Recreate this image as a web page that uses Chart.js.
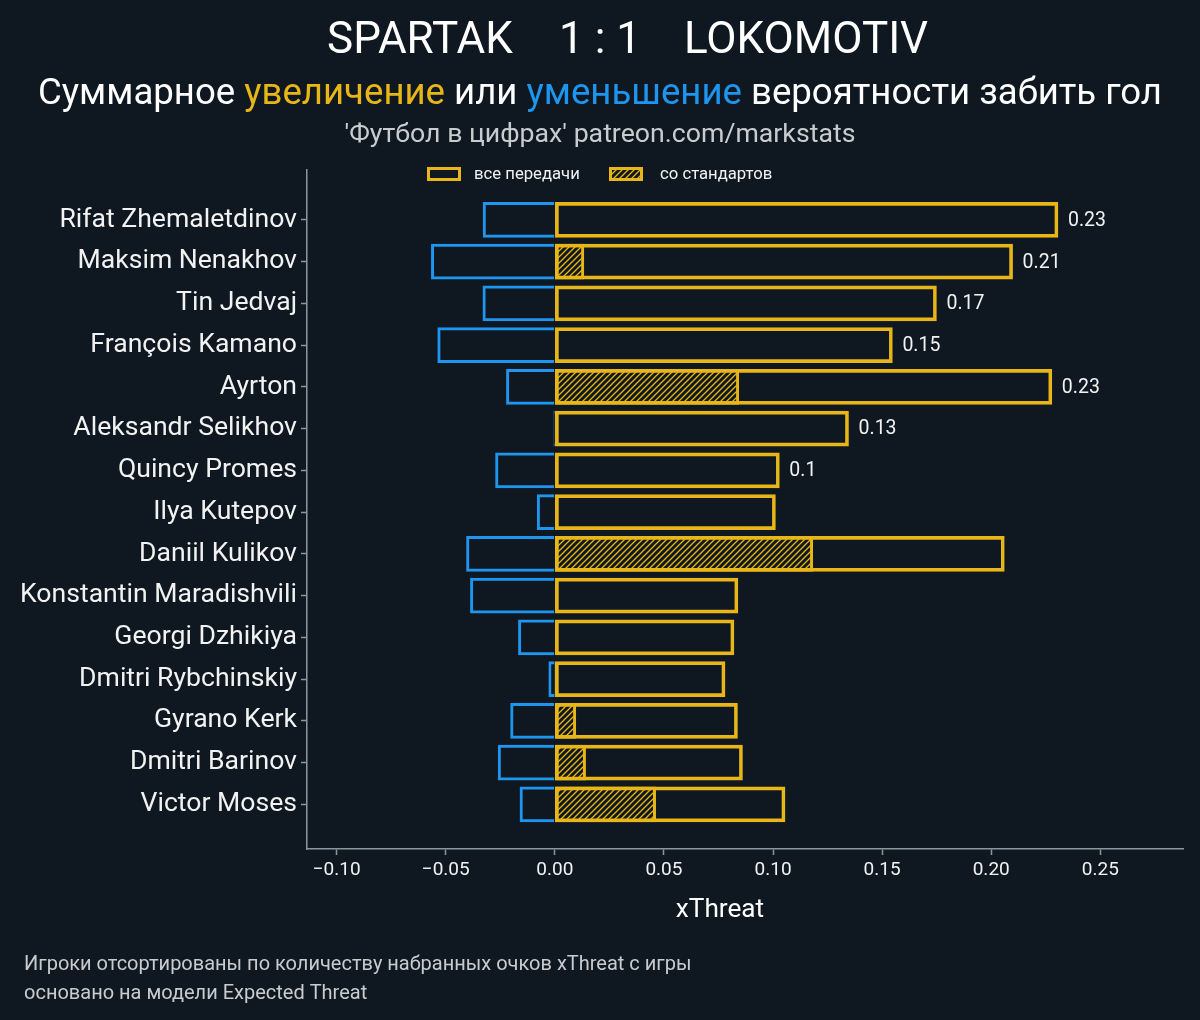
<!DOCTYPE html>
<html lang="ru">
<head>
    <meta charset="UTF-8">
    <title>Spartak 1:1 Lokomotiv – xThreat</title>
    <script src="https://cdn.jsdelivr.net/npm/chart.js"></script>
    <style>
        html, body {
            margin: 0;
            padding: 0;
            background-color: #0f1820;
        }
        .wrap {
            width: 1200px;
            height: 1020px;
            position: relative;
        }
    </style>
</head>
<body>
    <div class="wrap">
        <canvas id="xtChart"></canvas>
    </div>

    <script>
        // Data
        const players = [
            'Rifat Zhemaletdinov', 'Maksim Nenakhov', 'Tin Jedvaj', 'François Kamano', 'Ayrton',
            'Aleksandr Selikhov', 'Quincy Promes', 'Ilya Kutepov', 'Daniil Kulikov',
            'Konstantin Maradishvili', 'Georgi Dzhikiya', 'Dmitri Rybchinskiy', 'Gyrano Kerk',
            'Dmitri Barinov', 'Victor Moses'
        ];
        // total xThreat gained (all passes)
        const gained = [0.2306, 0.2098, 0.1749, 0.1547, 0.2278, 0.1346, 0.1029, 0.1011,
                        0.2060, 0.0839, 0.0821, 0.0780, 0.0837, 0.0860, 0.1055];
        // part of it from set pieces
        const setPieces = [0, 0.0133, 0, 0, 0.0843, 0, 0, 0,
                           0.1182, 0, 0, 0, 0.0096, 0.0141, 0.0462];
        // xThreat lost
        const lost = [-0.0329, -0.0566, -0.0330, -0.0537, -0.0222, -0.0005, -0.0272, -0.0081,
                      -0.0405, -0.0387, -0.0167, -0.0028, -0.0203, -0.0260, -0.0160];
        const xTicks = [-0.10, -0.05, 0.00, 0.05, 0.10, 0.15, 0.20, 0.25];
        const labelledRows = 7;

        // Colours
        const BG = '#0f1820';
        const YELLOW = '#e8b717';
        const BLUE = '#1e96f0';
        const AXIS = '#8a979c';
        const TEXT = '#f2f2f2';
        const GREY = '#c9cccf';
        const FONT = 'Roboto, sans-serif';

        function makeHatch(color) {
            const c = document.createElement('canvas');
            c.width = 6; c.height = 6;
            const g = c.getContext('2d');
            g.fillStyle = BG;
            g.fillRect(0, 0, 6, 6);
            g.strokeStyle = color;
            g.lineWidth = 1.3;
            g.beginPath();
            g.moveTo(0, 6); g.lineTo(6, 0);
            g.moveTo(-1, 1); g.lineTo(1, -1);
            g.moveTo(5, 7); g.lineTo(7, 5);
            g.stroke();
            return g.createPattern(c, 'repeat');
        }
        const hatch = makeHatch(YELLOW);

        const fmtTick = v => (v < 0 ? '\u2212' : '') + Math.abs(v).toFixed(2);

        // Background, titles, legend, value labels, footer
        const decorPlugin = {
            id: 'decor',
            beforeDraw(chart) {
                const ctx = chart.ctx;
                ctx.save();
                ctx.fillStyle = BG;
                ctx.fillRect(0, 0, chart.width, chart.height);
                ctx.restore();
            },
            afterDatasetsDraw(chart) {
                const ctx = chart.ctx;
                ctx.save();
                ctx.fillStyle = TEXT;
                ctx.font = '19.5px ' + FONT;
                ctx.textAlign = 'left';
                ctx.textBaseline = 'middle';
                const meta = chart.getDatasetMeta(0);
                meta.data.forEach((bar, i) => {
                    if (i >= labelledRows) return;
                    const txt = String(Math.round(gained[i] * 100) / 100);
                    ctx.fillText(txt, bar.x + 10, bar.y + 1);
                });
                ctx.restore();
            },
            afterDraw(chart) {
                const ctx = chart.ctx;
                ctx.save();
                ctx.textBaseline = 'alphabetic';

                // main title
                ctx.fillStyle = '#ffffff';
                ctx.font = '44px ' + FONT;
                ctx.textAlign = 'left';
                ctx.fillText('SPARTAK', 327, 53);
                ctx.textAlign = 'center';
                ctx.fillText('1 : 1', 600, 53);
                ctx.textAlign = 'left';
                ctx.fillText('LOKOMOTIV', 684, 53);

                // subtitle with coloured words
                const parts = [
                    ['Суммарное ', '#ffffff'],
                    ['увеличение', YELLOW],
                    [' или ', '#ffffff'],
                    ['уменьшение', BLUE],
                    [' вероятности забить гол', '#ffffff']
                ];
                ctx.font = '36.6px ' + FONT;
                const total = parts.reduce((s, p) => s + ctx.measureText(p[0]).width, 0);
                let x = 600 - total / 2;
                parts.forEach(p => {
                    ctx.fillStyle = p[1];
                    ctx.fillText(p[0], x, 104);
                    x += ctx.measureText(p[0]).width;
                });

                // source line
                ctx.fillStyle = GREY;
                ctx.font = '26.7px ' + FONT;
                ctx.textAlign = 'center';
                ctx.fillText("'Футбол в цифрах' patreon.com/markstats", 600, 142);

                // legend
                ctx.font = '16.7px ' + FONT;
                ctx.textAlign = 'left';
                ctx.textBaseline = 'middle';
                ctx.lineWidth = 3;
                ctx.strokeStyle = YELLOW;
                ctx.strokeRect(428.5, 168.5, 31, 11);
                ctx.fillStyle = hatch;
                ctx.fillRect(610, 170, 32, 9);
                ctx.strokeRect(610.5, 168.5, 31, 11);
                ctx.fillStyle = TEXT;
                ctx.fillText('все передачи', 474, 175);
                ctx.fillText('со стандартов', 660, 175);

                // x axis title
                ctx.textBaseline = 'alphabetic';
                ctx.textAlign = 'center';
                ctx.fillStyle = '#ffffff';
                ctx.font = '26.2px ' + FONT;
                ctx.fillText('xThreat', 720, 917);

                // footer notes
                ctx.textAlign = 'left';
                ctx.fillStyle = GREY;
                ctx.font = '20px ' + FONT;
                ctx.fillText('Игроки отсортированы по количеству набранных очков xThreat с игры', 24, 970);
                ctx.fillText('основано на модели Expected Threat', 24, 999);
                ctx.restore();
            }
        };

        const ctx = document.getElementById('xtChart').getContext('2d');
        const xtChart = new Chart(ctx, {
            type: 'bar',
            data: {
                datasets: [
                    {
                        label: 'все передачи',
                        data: players.map((p, i) => ({ y: i, x: [0, gained[i]] })),
                        backgroundColor: 'rgba(0,0,0,0)',
                        borderColor: YELLOW,
                        borderWidth: 3,
                        borderSkipped: false
                    },
                    {
                        label: 'со стандартов',
                        data: players.map((p, i) => ({ y: i, x: [0, setPieces[i]] })),
                        backgroundColor: hatch,
                        borderColor: YELLOW,
                        borderWidth: 3,
                        borderSkipped: false
                    },
                    {
                        label: 'потери',
                        data: players.map((p, i) => ({ y: i, x: [lost[i], 0] })),
                        backgroundColor: BG,
                        borderColor: BLUE,
                        borderWidth: 3,
                        borderSkipped: 'left'
                    }
                ]
            },
            options: {
                indexAxis: 'y',
                responsive: true,
                maintainAspectRatio: false,
                animation: false,
                layout: { padding: { top: 170, right: 17, bottom: 0, left: 0 } },
                datasets: {
                    bar: { grouped: false, barThickness: 35 }
                },
                scales: {
                    x: {
                        type: 'linear',
                        min: -0.1136,
                        max: 0.2879,
                        afterBuildTicks(scale) {
                            scale.ticks = xTicks.map(v => ({ value: v }));
                        },
                        afterFit(scale) { scale.height = 171; },
                        ticks: {
                            color: TEXT,
                            font: { family: FONT, size: 19 },
                            padding: 4,
                            callback: v => fmtTick(v)
                        },
                        grid: {
                            drawOnChartArea: false,
                            drawTicks: true,
                            tickLength: 6,
                            tickColor: AXIS,
                            tickWidth: 1.5
                        },
                        border: { display: true, color: AXIS, width: 1.5 }
                    },
                    y: {
                        type: 'linear',
                        reverse: true,
                        offset: false,
                        min: -1.195,
                        max: 15.07,
                        afterBuildTicks(scale) {
                            scale.ticks = players.map((p, i) => ({ value: i }));
                        },
                        afterFit(scale) { scale.width = 307; },
                        ticks: {
                            color: TEXT,
                            font: { family: FONT, size: 26.6 },
                            padding: 4,
                            autoSkip: false,
                            callback: v => players[v]
                        },
                        grid: {
                            offset: false,
                            drawOnChartArea: false,
                            drawTicks: true,
                            tickLength: 6,
                            tickColor: AXIS,
                            tickWidth: 1.5
                        },
                        border: { display: true, color: AXIS, width: 1.5 }
                    }
                },
                plugins: {
                    legend: { display: false },
                    title: { display: false },
                    tooltip: { enabled: false }
                }
            },
            plugins: [decorPlugin]
        });
    </script>
</body>
</html>
